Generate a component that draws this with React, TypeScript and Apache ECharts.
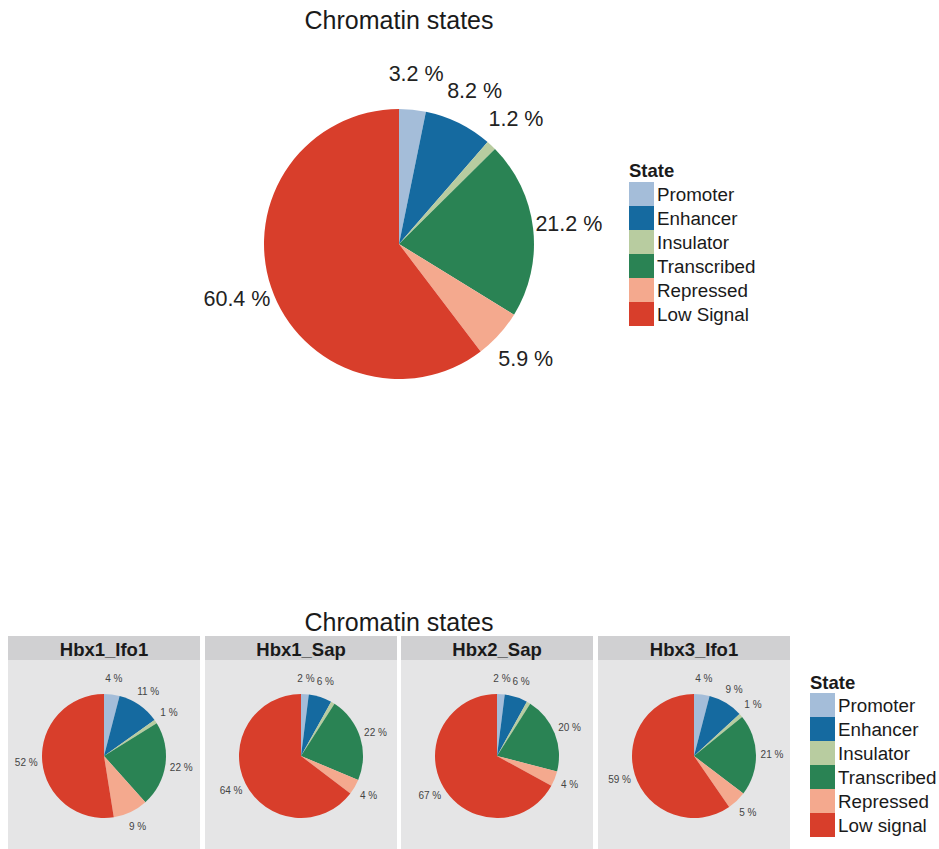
import React, { useEffect, useRef } from "react";
import * as echarts from "echarts";

// Chromatin state categories and their fill colours
const statesTop = ["Promoter", "Enhancer", "Insulator", "Transcribed", "Repressed", "Low Signal"];
const statesFacet = ["Promoter", "Enhancer", "Insulator", "Transcribed", "Repressed", "Low signal"];
const stateColors = ["#a4bdd9", "#156aa0", "#b8cca0", "#2a8354", "#f4a98e", "#d83e2b"];

// Genome-wide share of each state (%)
const overallPct = [3.2, 8.2, 1.2, 21.2, 5.9, 60.4];

// Per-sample shares (%)
const samples = ["Hbx1_Ifo1", "Hbx1_Sap", "Hbx2_Sap", "Hbx3_Ifo1"];
const hbx1Ifo1 = [4, 11, 1, 22, 9, 52];
const hbx1Sap = [2, 6, 1, 22, 4, 64];
const hbx2Sap = [2, 6, 1, 20, 4, 67];
const hbx3Ifo1 = [4, 9, 1, 21, 5, 59];
const sampleValues = [hbx1Ifo1, hbx1Sap, hbx2Sap, hbx3Ifo1];

const FONT = "'Liberation Sans', Arial, Helvetica, sans-serif";

function pieWithLabels(
  id: string,
  names: string[],
  values: number[],
  center: [number, number],
  radius: number,
  labelRadius: number,
  fontSize: number,
  labelColor: string
) {
  const data = names.map((n, i) => ({
    name: n,
    value: values[i],
    itemStyle: { color: stateColors[i] },
  }));
  const pie = {
    id: id,
    type: "pie",
    center,
    radius: [0, radius],
    startAngle: 90,
    clockwise: true,
    label: { show: false },
    labelLine: { show: false },
    itemStyle: { borderWidth: 0 },
    emphasis: { disabled: true },
    data,
  };
  // transparent ring whose inside labels sit on each slice's mid-angle
  const ring = {
    id: id + "_labels",
    type: "pie",
    center,
    radius: [labelRadius - 1, labelRadius + 1],
    startAngle: 90,
    clockwise: true,
    silent: true,
    emphasis: { disabled: true },
    itemStyle: { color: "rgba(0,0,0,0)", borderWidth: 0 },
    labelLine: { show: false },
    label: {
      show: true,
      position: "inside",
      formatter: "{c} %",
      fontSize,
      color: labelColor,
      fontFamily: FONT,
    },
    data: names.map((n, i) => ({ name: n, value: values[i] })),
  };
  return [pie, ring];
}

export default function App() {
  const ref = useRef<HTMLDivElement>(null);

  useEffect(() => {
    document.body.style.margin = "0";
    if (!ref.current) return;
    const chart = echarts.init(ref.current, undefined, { renderer: "svg" });

    const panelX = [8, 205, 401, 598];
    const panelW = 192;
    const stripTop = 636;
    const stripH = 24;
    const panelBottom = 849;
    const pieY = 756;

    const series: any[] = [];
    series.push(
      ...pieWithLabels("overall", statesTop, overallPct, [399, 244], 135, 168, 21.5, "#222")
    );
    samples.forEach((s, k) => {
      series.push(
        ...pieWithLabels(
          s,
          statesFacet,
          sampleValues[k],
          [panelX[k] + panelW / 2, pieY],
          62,
          75,
          10,
          "#444"
        )
      );
    });

    const graphic: any[] = [];
    samples.forEach((s, k) => {
      graphic.push({
        type: "rect",
        z: -10,
        shape: { x: panelX[k], y: stripTop + stripH, width: panelW, height: panelBottom - stripTop - stripH },
        style: { fill: "#e5e5e6" },
      });
      graphic.push({
        type: "rect",
        z: -10,
        shape: { x: panelX[k], y: stripTop, width: panelW, height: stripH },
        style: { fill: "#d0d0d2" },
      });
      graphic.push({
        type: "text",
        x: panelX[k] + panelW / 2,
        y: stripTop + stripH / 2 + 1,
        style: {
          text: s,
          align: "center",
          verticalAlign: "middle",
          fontSize: 18.5,
          fontWeight: "bold",
          fontFamily: FONT,
          fill: "#1a1a1a",
        },
      });
    });
    const titles: [number, number][] = [
      [399, 20],
      [399, 622],
    ];
    titles.forEach(([x, y]) =>
      graphic.push({
        type: "text",
        x,
        y,
        style: {
          text: "Chromatin states",
          align: "center",
          verticalAlign: "middle",
          fontSize: 25,
          fontFamily: FONT,
          fill: "#1a1a1a",
        },
      })
    );
    const stateTitles: [number, number][] = [
      [629, 170],
      [810, 682],
    ];
    stateTitles.forEach(([x, y]) =>
      graphic.push({
        type: "text",
        x,
        y,
        style: {
          text: "State",
          align: "left",
          verticalAlign: "middle",
          fontSize: 18.5,
          fontWeight: "bold",
          fontFamily: FONT,
          fill: "#1a1a1a",
        },
      })
    );

    const legendBase = {
      orient: "vertical",
      itemWidth: 25,
      itemHeight: 24,
      itemGap: 0,
      padding: 0,
      icon: "rect",
      selectedMode: false,
      itemStyle: { borderWidth: 0 },
      textStyle: {
        fontSize: 18.8,
        color: "#1a1a1a",
        fontFamily: FONT,
        padding: [0, 0, 0, -2],
      },
    };

    chart.setOption({
      animation: false,
      textStyle: { fontFamily: FONT },
      legend: [
        { ...legendBase, left: 629, top: 182, data: statesTop },
        { ...legendBase, left: 810, top: 693, data: statesFacet },
      ],
      graphic,
      series,
    });

    return () => chart.dispose();
  }, []);

  return <div ref={ref} style={{ width: 939, height: 849 }} />;
}
